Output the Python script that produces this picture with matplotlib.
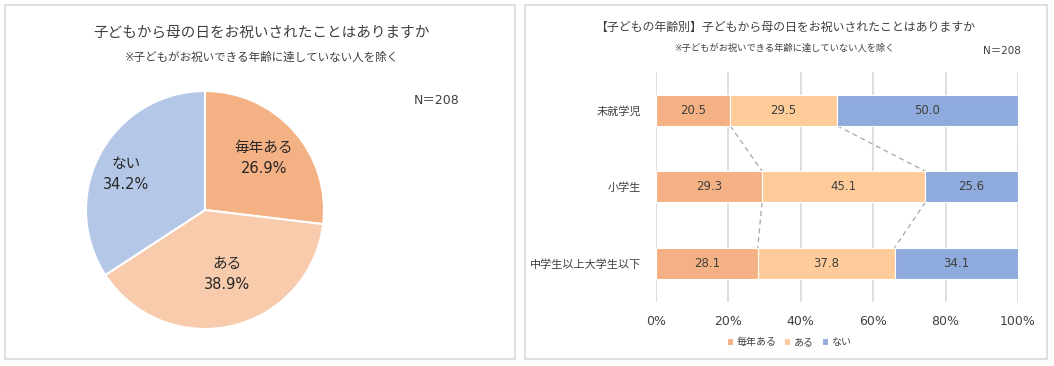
import numpy as np
import matplotlib
matplotlib.use("Agg")
import matplotlib.pyplot as plt
import matplotlib.patches as patches

# DejaVu for digits/latin (wide like Meiryo), CJK fallback for Japanese
plt.rcParams['font.family'] = ['DejaVu Sans', 'Noto Sans CJK JP']

# ---- data ----
answers = ["毎年ある", "ある", "ない"]
pie_values = [26.9, 38.9, 34.2]
ages = ["未就学児", "小学生", "中学生以上大学生以下"]
every_year = [20.5, 29.3, 28.1]
sometimes = [29.5, 45.1, 37.8]
never = [50.0, 25.6, 34.1]

pie_colors = ["#F4B183", "#F8CBAD", "#B4C7E7"]
bar_colors = ["#F4B183", "#FFCC99", "#8FAADC"]
txt = "#404040"

W, H = 1054, 366
fig = plt.figure(figsize=(W / 100, H / 100), dpi=100)

def px(x0, y0, x1, y1):
    # pixel box (top-left origin) -> figure rect
    return [x0 / W, 1 - y1 / H, (x1 - x0) / W, (y1 - y0) / H]

# panel borders
for (x0, y0, x1, y1) in [(5, 5, 515, 359), (525, 5, 1047, 359)]:
    r = px(x0, y0, x1, y1)
    fig.patches.append(patches.Rectangle((r[0], r[1]), r[2], r[3], transform=fig.transFigure,
                                         fill=False, edgecolor="#D9D9D9", linewidth=1.2))

# ---------------- left: pie ----------------
fig.text(262 / W, 1 - 32 / H, "子どもから母の日をお祝いされたことはありますか", ha="center", va="center",
         fontsize=10.5, color=txt)
fig.text(262 / W, 1 - 57 / H, "※子どもがお祝いできる年齢に達していない人を除く", ha="center", va="center",
         fontsize=8.3, color=txt)
fig.text(437 / W, 1 - 101 / H, "N＝208", ha="center", va="center", fontsize=9, color=txt)

ax1 = fig.add_axes(px(86, 91, 324, 329))
wedges, _ = ax1.pie(pie_values, colors=pie_colors, startangle=90, counterclock=False,
                    wedgeprops=dict(edgecolor="white", linewidth=1.5))
ax1.set_xlim(-1, 1)
ax1.set_ylim(-1, 1)
ax1.set_aspect("equal")
label_dist = [0.66, 0.57, 0.73]
label_turn = [0, 6, 4]  # small angle nudges, degrees
for w, name, v, d, t in zip(wedges, answers, pie_values, label_dist, label_turn):
    ang = np.deg2rad((w.theta1 + w.theta2) / 2 + t)
    x, y = d * np.cos(ang), d * np.sin(ang)
    ax1.text(x, y, f"{name}\n{v:.1f}%", ha="center", va="center", fontsize=10.5,
             color="#262626", linespacing=1.55)

# ---------------- right: stacked bars ----------------
fig.text(785 / W, 1 - 27 / H, "【子どもの年齢別】子どもから母の日をお祝いされたことはありますか",
         ha="center", va="center", fontsize=8.6, color=txt)
fig.text(784 / W, 1 - 48 / H, "※子どもがお祝いできる年齢に達していない人を除く", ha="center", va="center",
         fontsize=6.7, color=txt)
fig.text(1002 / W, 1 - 51 / H, "N＝208", ha="center", va="center", fontsize=7.5, color=txt)

ax2 = fig.add_axes(px(656, 72, 1018, 301.5))
y = np.arange(len(ages))
h = 0.405
series = [every_year, sometimes, never]
left = np.zeros(len(ages))
bounds = []
for vals, c, name in zip(series, bar_colors, answers):
    vals = np.array(vals)
    ax2.barh(y, vals, left=left, height=h, color=c, edgecolor="white", linewidth=0.8,
             label=name, zorder=3)
    for yi, l, v in zip(y, left, vals):
        ax2.text(l + v / 2, yi, f"{v:.1f}", ha="center", va="center", fontsize=8.5,
                 color=txt, zorder=4)
    left = left + vals
    bounds.append(left.copy())

# series lines
for b in bounds:
    for i in range(len(ages) - 1):
        ax2.plot([b[i], b[i + 1]], [y[i] + h / 2, y[i + 1] - h / 2], ls=(0, (4, 3)),
                 color="#A5A5A5", lw=0.9, zorder=2)

ax2.set_xlim(0, 100)
ax2.set_ylim(2.5, -0.5)
ax2.set_xticks(np.arange(0, 101, 20))
ax2.set_xticklabels([f"{t}%" for t in range(0, 101, 20)])
ax2.set_yticks(y)
ax2.set_yticklabels(ages)
ax2.grid(axis="x", color="#D9D9D9", lw=1.2, zorder=0)
ax2.set_axisbelow(True)
for s in ax2.spines.values():
    s.set_visible(False)
ax2.tick_params(length=0, labelsize=9, colors=txt)
ax2.tick_params(axis="x", pad=10)
ax2.tick_params(axis="y", pad=11, labelsize=8)

fig.legend(loc="center", bbox_to_anchor=(789 / W, 1 - 342 / H), ncol=3, frameon=False,
           fontsize=7.2, handlelength=0.6, handleheight=0.6, handletextpad=0.35,
           columnspacing=0.8, labelcolor=txt)

fig.savefig("out.png", dpi=100)
